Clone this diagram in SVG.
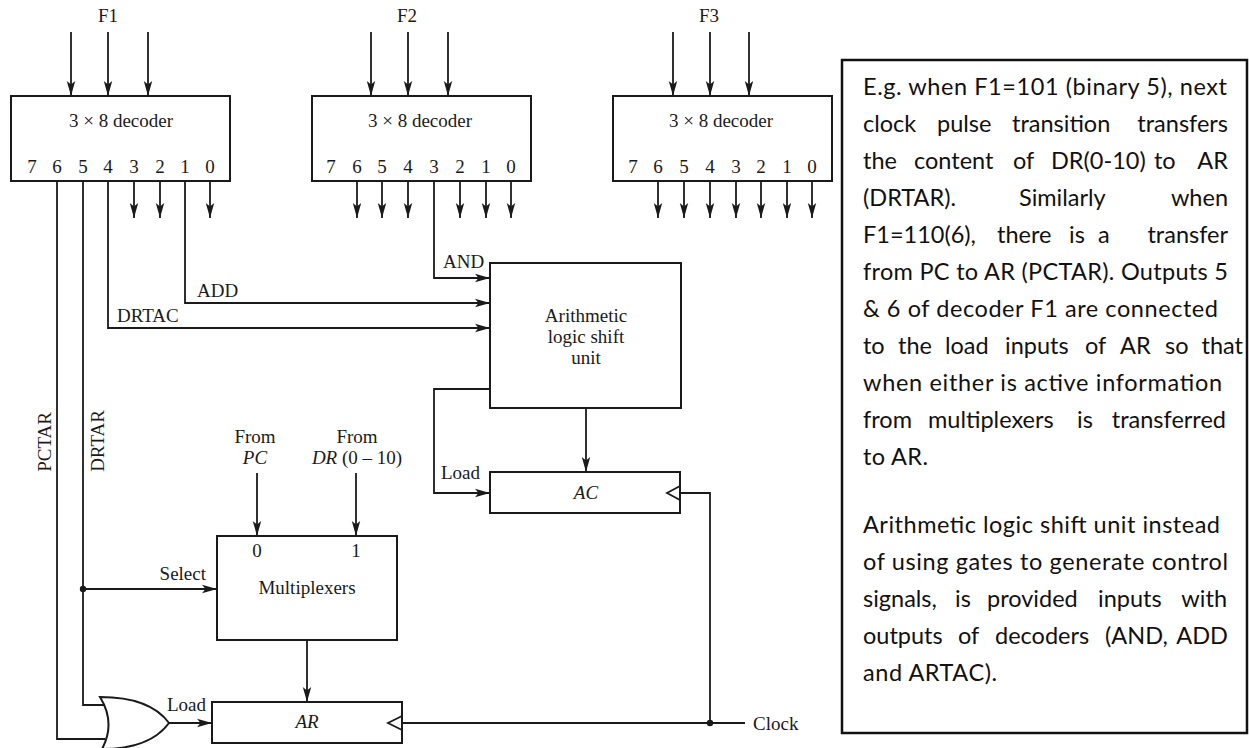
<svg xmlns="http://www.w3.org/2000/svg" width="1249" height="748" viewBox="0 0 1249 748">
<style>
.bg{fill:#ffffff}
.box{fill:#ffffff;stroke:#1a1a1a;stroke-width:2}
.ln{fill:none;stroke:#1a1a1a;stroke-width:1.8}
.t{font-family:"Liberation Serif","Times New Roman",serif;font-size:19px;fill:#1a1a1a}
.m{text-anchor:middle}
.e{text-anchor:end}
.it{font-style:italic}
.note{font-family:Lato,"Liberation Sans",sans-serif;font-size:23.5px;fill:#111}
</style>
<defs>
<marker id="arr" viewBox="0 0 15 10" refX="15" refY="5" markerWidth="15" markerHeight="10" markerUnits="userSpaceOnUse" orient="auto">
<path d="M0,0.8 L15,5 L0,9.2 L3.5,5 Z" fill="#1a1a1a"/>
</marker>
</defs>
<rect class="bg" x="0" y="0" width="1249" height="748"/>

<g id="connectors">
<path class="ln" d="M71,32 V96" marker-end="url(#arr)"/>
<path class="ln" d="M108,32 V96" marker-end="url(#arr)"/>
<path class="ln" d="M148,32 V96" marker-end="url(#arr)"/>
<path class="ln" d="M371,32 V96" marker-end="url(#arr)"/>
<path class="ln" d="M408,32 V96" marker-end="url(#arr)"/>
<path class="ln" d="M448,32 V96" marker-end="url(#arr)"/>
<path class="ln" d="M673,32 V96" marker-end="url(#arr)"/>
<path class="ln" d="M710,32 V96" marker-end="url(#arr)"/>
<path class="ln" d="M749,32 V96" marker-end="url(#arr)"/>

<path class="ln" d="M134,181 V218" marker-end="url(#arr)"/>
<path class="ln" d="M160,181 V218" marker-end="url(#arr)"/>
<path class="ln" d="M210,181 V218" marker-end="url(#arr)"/>

<path class="ln" d="M357,181 V218" marker-end="url(#arr)"/>
<path class="ln" d="M382,181 V218" marker-end="url(#arr)"/>
<path class="ln" d="M408,181 V218" marker-end="url(#arr)"/>
<path class="ln" d="M460,181 V218" marker-end="url(#arr)"/>
<path class="ln" d="M486,181 V218" marker-end="url(#arr)"/>
<path class="ln" d="M511,181 V218" marker-end="url(#arr)"/>

<path class="ln" d="M658,181 V218" marker-end="url(#arr)"/>
<path class="ln" d="M684,181 V218" marker-end="url(#arr)"/>
<path class="ln" d="M710,181 V218" marker-end="url(#arr)"/>
<path class="ln" d="M736,181 V218" marker-end="url(#arr)"/>
<path class="ln" d="M761,181 V218" marker-end="url(#arr)"/>
<path class="ln" d="M787,181 V218" marker-end="url(#arr)"/>
<path class="ln" d="M812,181 V218" marker-end="url(#arr)"/>

<path class="ln" d="M434,181 V278 H490" marker-end="url(#arr)"/>
<path class="ln" d="M185,181 V303 H490" marker-end="url(#arr)"/>
<path class="ln" d="M108,181 V328 H490" marker-end="url(#arr)"/>

<path class="ln" d="M57,181 V739 H105"/>
<path class="ln" d="M83,181 V705 H104"/>
<path class="ln" d="M83,589 H217" marker-end="url(#arr)"/>
<circle cx="83" cy="589" r="3.2" fill="#1a1a1a"/>
<path class="ln" d="M169,723 H212" marker-end="url(#arr)"/>

<path class="ln" d="M257,473 V536" marker-end="url(#arr)"/>
<path class="ln" d="M356,473 V536" marker-end="url(#arr)"/>
<path class="ln" d="M307,640 V702" marker-end="url(#arr)"/>

<path class="ln" d="M586,408 V472" marker-end="url(#arr)"/>
<path class="ln" d="M490,389 H434 V493 H490" marker-end="url(#arr)"/>

<path class="ln" d="M745,723 H402"/>
<path class="ln" d="M680,493 H710 V723"/>
<circle cx="710" cy="723" r="3.2" fill="#1a1a1a"/>
</g>

<g id="labels">
<text class="t m" x="108" y="22">F1</text>
<text class="t m" x="407" y="22">F2</text>
<text class="t m" x="709" y="22">F3</text>
<text class="t" x="443" y="268">AND</text>
<text class="t" x="197" y="297">ADD</text>
<text class="t" x="117" y="322">DRTAC</text>
<text class="t m" transform="translate(51,442) rotate(-90)">PCTAR</text>
<text class="t m" transform="translate(104,441) rotate(-90)">DRTAR</text>
<text class="t e" x="206" y="580">Select</text>
<text class="t" x="167" y="711">Load</text>
<text class="t" x="441" y="479">Load</text>
<text class="t m" x="255" y="443">From</text>
<text class="t m it" x="255" y="464">PC</text>
<text class="t m" x="357" y="443">From</text>
<text class="t m" x="357" y="464"><tspan class="it">DR</tspan> (0 – 10)</text>
<text class="t" x="753" y="730">Clock</text>
</g>

<g id="decoderF1">
<rect class="box" x="11" y="96" width="219" height="85"/>
<text class="t m" x="121" y="127">3 × 8 decoder</text>
<text class="t m" y="173"><tspan x="32">7</tspan><tspan x="57">6</tspan><tspan x="83">5</tspan><tspan x="108">4</tspan><tspan x="134">3</tspan><tspan x="160">2</tspan><tspan x="185">1</tspan><tspan x="210">0</tspan></text>
</g>
<g id="decoderF2">
<rect class="box" x="312" y="96" width="219" height="85"/>
<text class="t m" x="420" y="127">3 × 8 decoder</text>
<text class="t m" y="173"><tspan x="331">7</tspan><tspan x="357">6</tspan><tspan x="382">5</tspan><tspan x="408">4</tspan><tspan x="434">3</tspan><tspan x="460">2</tspan><tspan x="486">1</tspan><tspan x="511">0</tspan></text>
</g>
<g id="decoderF3">
<rect class="box" x="613" y="96" width="219" height="85"/>
<text class="t m" x="721" y="127">3 × 8 decoder</text>
<text class="t m" y="173"><tspan x="633">7</tspan><tspan x="658">6</tspan><tspan x="684">5</tspan><tspan x="710">4</tspan><tspan x="736">3</tspan><tspan x="761">2</tspan><tspan x="787">1</tspan><tspan x="812">0</tspan></text>
</g>

<g id="alu">
<rect class="box" x="490" y="263" width="191" height="145"/>
<text class="t m" x="586" y="322">Arithmetic</text>
<text class="t m" x="586" y="343">logic shift</text>
<text class="t m" x="586" y="364">unit</text>
</g>

<g id="ac">
<rect class="box" x="490" y="472" width="190" height="41"/>
<path class="ln" d="M680,486 L667,493 L680,500"/>
<text class="t m it" x="586" y="499">AC</text>
</g>

<g id="mux">
<rect class="box" x="217" y="536" width="180" height="104"/>
<text class="t m" x="257" y="557">0</text>
<text class="t m" x="356" y="557">1</text>
<text class="t m" x="307" y="594">Multiplexers</text>
</g>

<g id="ar">
<rect class="box" x="212" y="702" width="190" height="41"/>
<path class="ln" d="M402,716 L388,723 L402,730"/>
<text class="t m it" x="307" y="728">AR</text>
</g>

<g id="orgate">
<path class="box" d="M100,697 Q150,697 169,723 Q150,749 102,749 Q116,723 100,697 Z"/>
</g>

<g id="note">
<rect x="842" y="60" width="405" height="673" fill="none" stroke="#111" stroke-width="2.5"/>
<text class="note" x="863" y="95" textLength="364" lengthAdjust="spacing">E.g. when F1=101 (binary 5), next</text>
<text class="note" y="132"><tspan x="863">clock</tspan><tspan x="937">pulse</tspan><tspan x="1012">transition</tspan><tspan x="1228" text-anchor="end">transfers</tspan></text>
<text class="note" y="169"><tspan x="863">the</tspan><tspan x="914">content</tspan><tspan x="1013">of</tspan><tspan x="1051">DR(0-10)</tspan><tspan x="1154">to</tspan><tspan x="1228" text-anchor="end">AR</tspan></text>
<text class="note" y="206"><tspan x="863">(DRTAR).</tspan><tspan x="1019">Similarly</tspan><tspan x="1228" text-anchor="end">when</tspan></text>
<text class="note" y="243"><tspan x="863">F1=110(6),</tspan><tspan x="997">there</tspan><tspan x="1069">is</tspan><tspan x="1098">a</tspan><tspan x="1228" text-anchor="end">transfer</tspan></text>
<text class="note" x="863" y="280" textLength="365" lengthAdjust="spacing">from PC to AR (PCTAR). Outputs 5</text>
<text class="note" x="863" y="317" textLength="355" lengthAdjust="spacing">&amp; 6 of decoder F1 are connected</text>
<text class="note" y="354"><tspan x="863">to</tspan><tspan x="898">the</tspan><tspan x="945">load</tspan><tspan x="1005">inputs</tspan><tspan x="1085">of</tspan><tspan x="1120">AR</tspan><tspan x="1165">so</tspan><tspan x="1243" text-anchor="end">that</tspan></text>
<text class="note" x="863" y="391" textLength="359" lengthAdjust="spacing">when either is active information</text>
<text class="note" y="428"><tspan x="863">from</tspan><tspan x="928">multiplexers</tspan><tspan x="1077">is</tspan><tspan x="1226" text-anchor="end">transferred</tspan></text>
<text class="note" x="863" y="465" textLength="65" lengthAdjust="spacing">to AR.</text>
<text class="note" x="863" y="533" textLength="357" lengthAdjust="spacing">Arithmetic logic shift unit instead</text>
<text class="note" x="863" y="570" textLength="365" lengthAdjust="spacing">of using gates to generate control</text>
<text class="note" y="607"><tspan x="863">signals,</tspan><tspan x="955">is</tspan><tspan x="987">provided</tspan><tspan x="1098">inputs</tspan><tspan x="1227" text-anchor="end">with</tspan></text>
<text class="note" y="644"><tspan x="863">outputs</tspan><tspan x="958">of</tspan><tspan x="995">decoders</tspan><tspan x="1105">(AND,</tspan><tspan x="1228" text-anchor="end">ADD</tspan></text>
<text class="note" x="863" y="681" textLength="134" lengthAdjust="spacing">and ARTAC).</text>
</g>
</svg>
